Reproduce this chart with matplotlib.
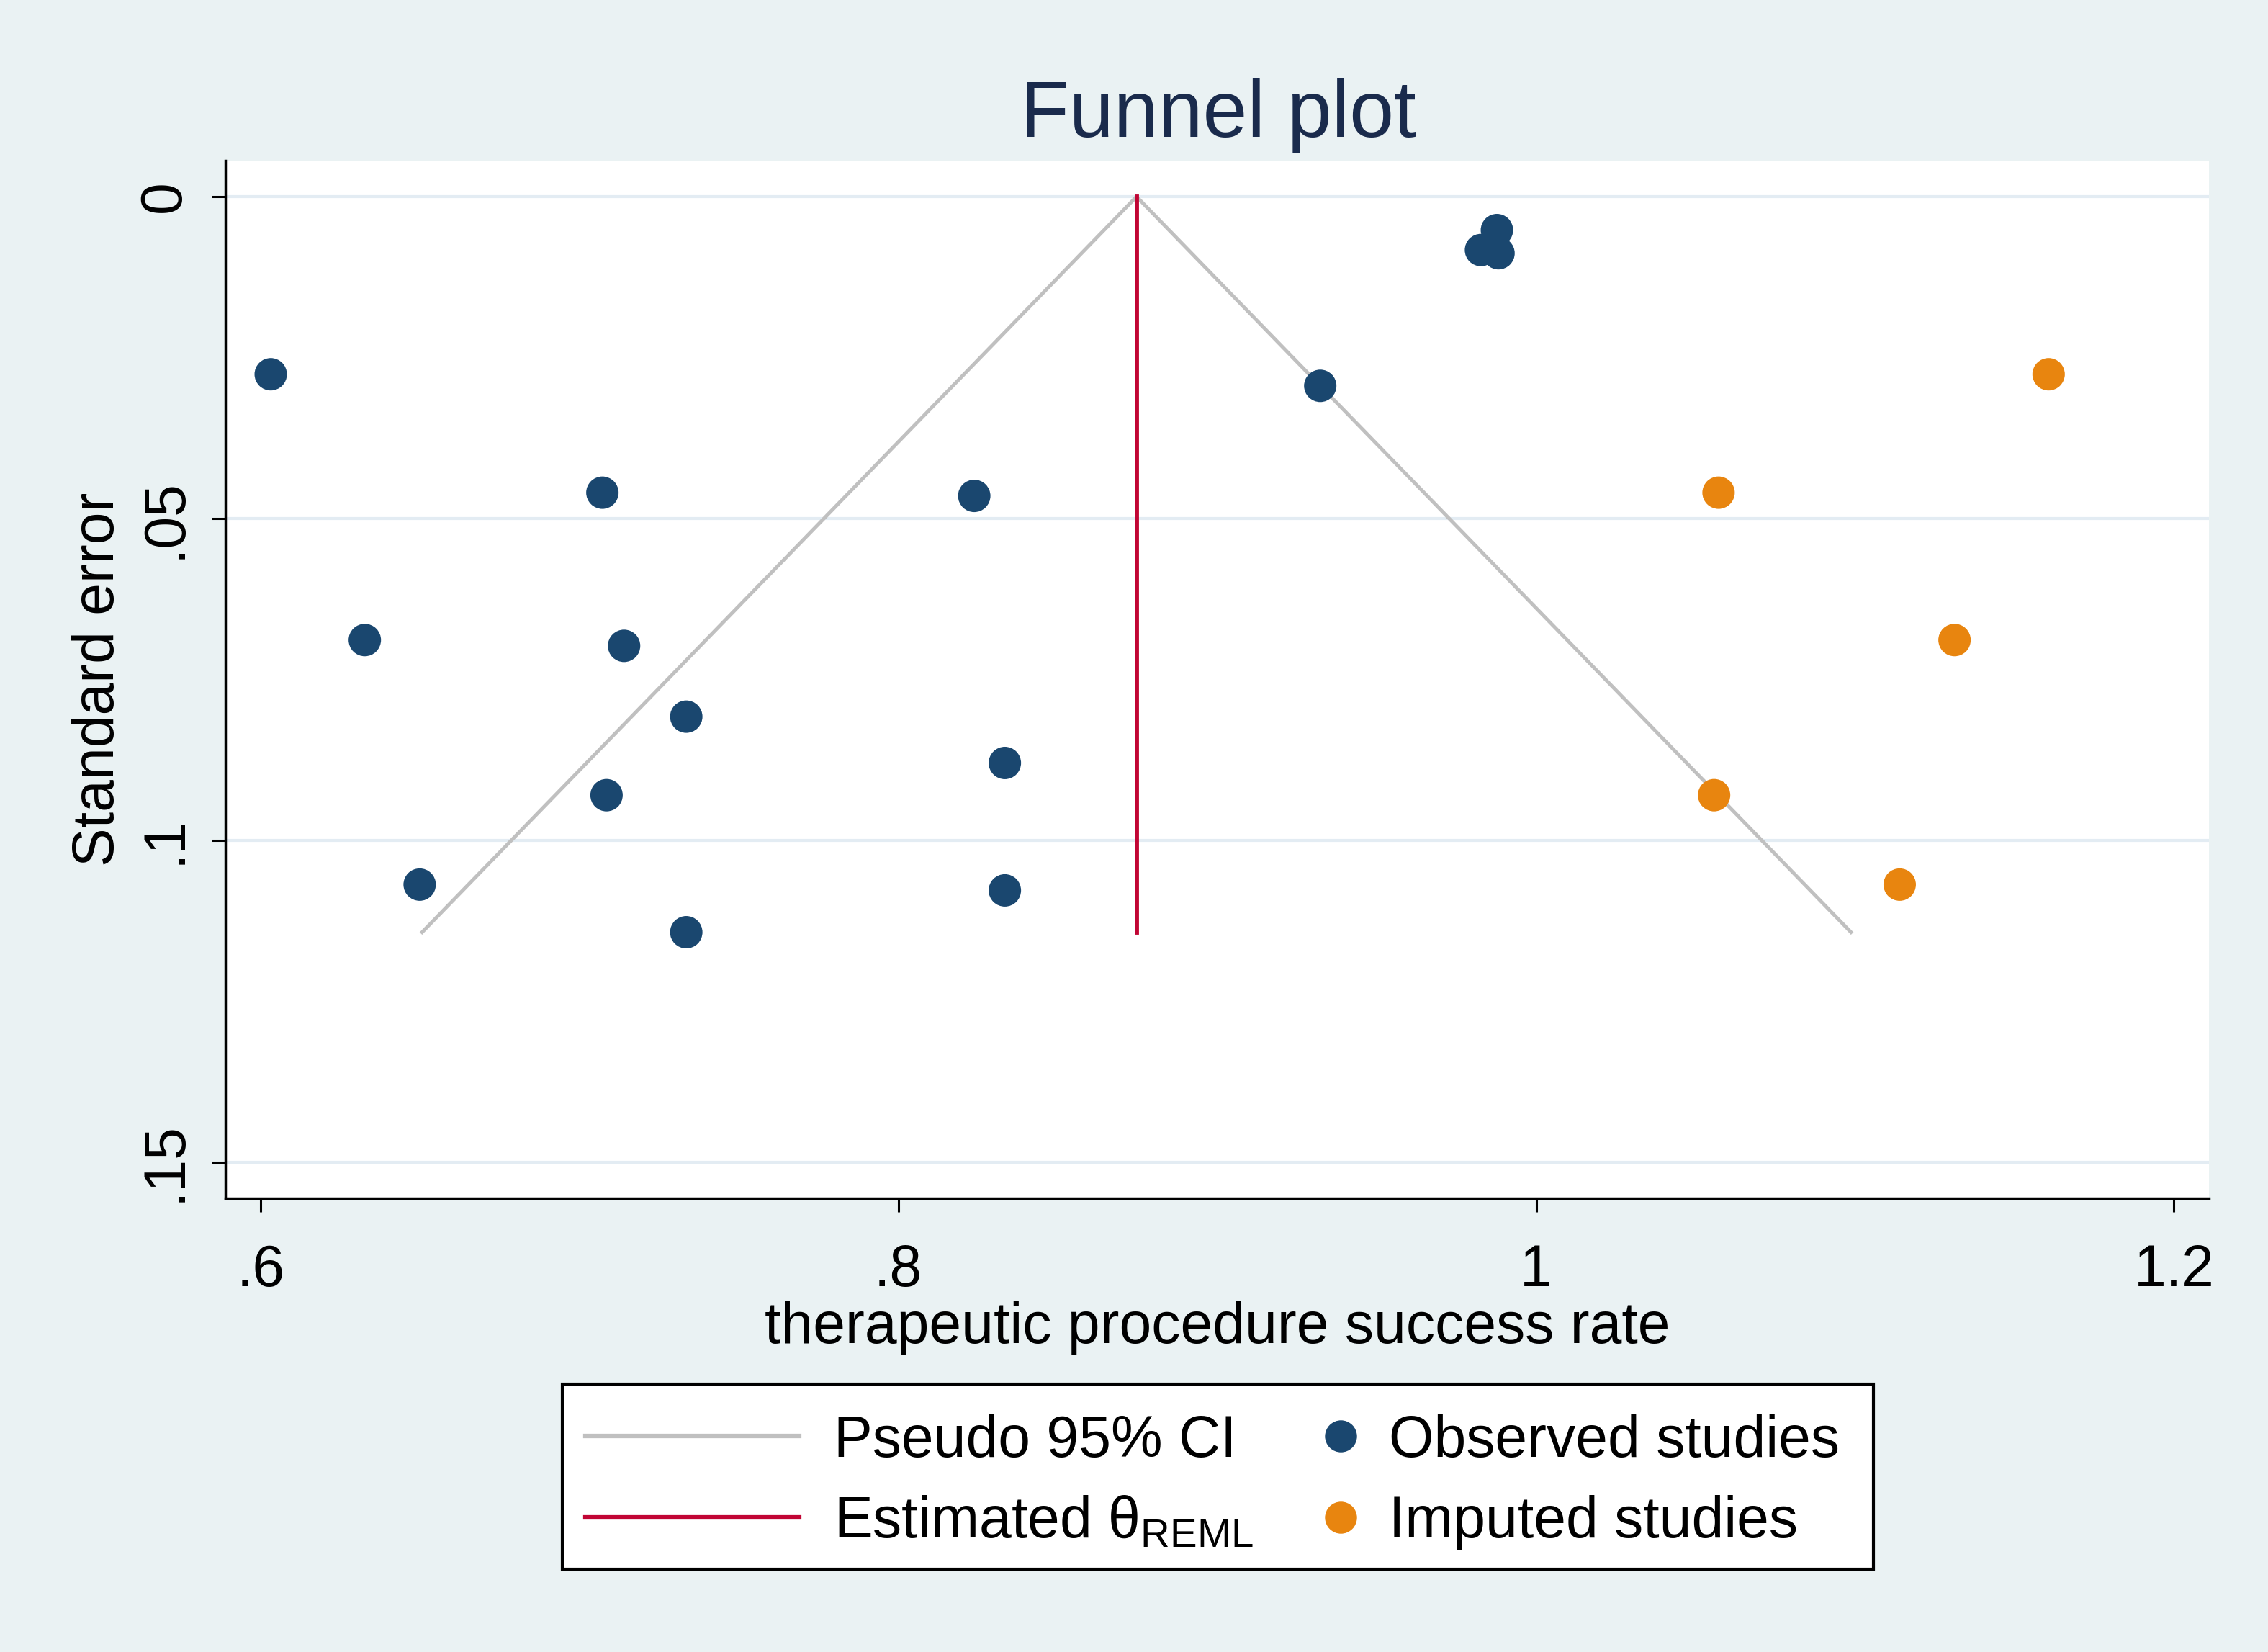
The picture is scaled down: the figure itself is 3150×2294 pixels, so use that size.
import matplotlib
matplotlib.use("Agg")
import matplotlib.pyplot as plt
from matplotlib.lines import Line2D
from matplotlib.patches import Rectangle

plt.rcParams['font.family'] = ['Liberation Sans', 'DejaVu Sans']

# Data
theta = 0.8747
se_max = 0.1143
z = 1.96

obs_x = [0.6032, 0.7072, 0.8238, 0.6327, 0.7140, 0.7335, 0.8334, 0.7085,
         0.6499, 0.8334, 0.7335, 0.9323, 0.9877, 0.9827, 0.9882]
obs_se = [0.0276, 0.0460, 0.0465, 0.0689, 0.0698, 0.0808, 0.0880, 0.0930,
          0.1069, 0.1078, 0.1143, 0.0294, 0.0052, 0.0083, 0.0088]

imp_x = [1.1607, 1.0572, 1.1312, 1.0558, 1.1140]
imp_se = [0.0276, 0.0460, 0.0689, 0.0930, 0.1069]

xticks = [0.6, 0.8, 1.0, 1.2]
xticklabels = ['.6', '.8', '1', '1.2']
yticks = [0, 0.05, 0.10, 0.15]
yticklabels = ['0', '.05', '.1', '.15']

bg = '#EAF2F3'
navy = '#1A476F'
orange = '#E8850F'
red = '#C10534'
gray = '#C0C0C0'

fig = plt.figure(figsize=(31.5, 22.94), dpi=100, facecolor=bg)
ax = fig.add_axes([0.0994, 0.2748, 0.8746, 0.628])
ax.set_facecolor('white')

# funnel
fx = [theta - z * se_max, theta, theta + z * se_max]
fy = [se_max, 0, se_max]
ax.plot(fx, fy, color=gray, lw=3.6, zorder=2)
ax.plot([theta, theta], [0, se_max], color=red, lw=4.2, zorder=3)

ax.scatter(obs_x, obs_se, s=1050, color=navy, edgecolors='none', zorder=4)
ax.scatter(imp_x, imp_se, s=1050, color=orange, edgecolors='none', zorder=4)

ax.set_xlim(0.589, 1.211)
ax.set_ylim(0.1556, -0.0056)

ax.set_xticks(xticks)
ax.set_xticklabels(xticklabels)
ax.set_yticks(yticks)
ax.set_yticklabels(yticklabels, rotation=90, va='center')

ax.grid(axis='y', color='#E3ECF3', lw=3)
ax.set_axisbelow(True)

for s in ['top', 'right']:
    ax.spines[s].set_visible(False)
for s in ['left', 'bottom']:
    ax.spines[s].set_linewidth(2.5)
    ax.spines[s].set_color('black')

ax.tick_params(axis='both', direction='out', length=14, width=2.2,
               labelsize=58)
ax.tick_params(axis='x', pad=32)
ax.tick_params(axis='y', pad=19)

ax.set_xlabel('therapeutic procedure success rate', fontsize=58, labelpad=2)
ax.set_ylabel('Standard error', fontsize=58, labelpad=12)

fig.text(0.537, 0.930, 'Funnel plot', fontsize=80, color='#1A2B4C',
         ha='center', va='center')

# legend frame
frame = Rectangle((0.248, 0.050), 0.578, 0.112, transform=fig.transFigure,
                  facecolor='white', edgecolor='black', lw=3, zorder=1)
fig.add_artist(frame)

line_handles = [Line2D([0], [0], color=gray, lw=4.5),
                Line2D([0], [0], color=red, lw=4.5)]
line_labels = ['Pseudo 95% CI', 'Estimated θ$_{\\mathregular{REML}}$']
leg1 = fig.legend(line_handles, line_labels, loc='center left',
                  bbox_to_anchor=(0.258, 0.103), fontsize=58, frameon=False,
                  handlelength=3.69, handletextpad=0.6, borderpad=0,
                  borderaxespad=0, labelspacing=0.45)

mk_handles = [Line2D([0], [0], marker='o', color='none', markerfacecolor=navy,
                     markeredgecolor='none', markersize=32),
              Line2D([0], [0], marker='o', color='none', markerfacecolor=orange,
                     markeredgecolor='none', markersize=32)]
mk_labels = ['Observed studies', 'Imputed studies']
leg2 = fig.legend(mk_handles, mk_labels, loc='center left',
                  bbox_to_anchor=(0.5784, 0.103), fontsize=58, frameon=False,
                  handlelength=1.0, handletextpad=0.33, borderpad=0,
                  borderaxespad=0, labelspacing=0.45)

fig.savefig('out.png', dpi=100, facecolor=bg)
